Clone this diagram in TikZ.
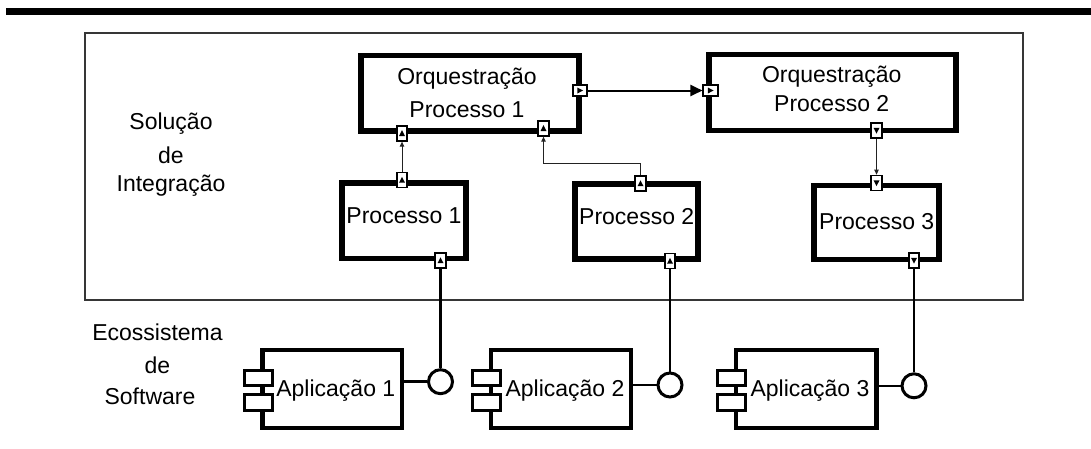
\documentclass[tikz,border=0pt]{standalone}
\usepackage{fontspec}
\setmainfont{Liberation Sans}
\usetikzlibrary{arrows.meta,calc}
\definecolor{framegray}{HTML}{363636}
\definecolor{wiregray}{HTML}{222222}
\begin{document}
\begin{tikzpicture}[x=1pt,y=-1pt,
  lbl/.style={font=\fontsize{23}{28}\selectfont, inner sep=0pt, text height=16.5pt, text depth=0pt},
  block/.style={inner sep=0pt, align=center},
  orch/.style={draw, line width=5.6pt, fill=white, inner sep=0pt},
  proc/.style={draw, line width=5.2pt, fill=white, inner sep=0pt},
  app/.style={draw, line width=4.6pt, fill=white, inner sep=0pt, outer sep=0pt},
  tab/.style={draw, line width=2.7pt, fill=white, inner sep=0pt,
    minimum width=28pt, minimum height=15.5pt},
  vport/.style={draw, line width=1.7pt, fill=white, inner sep=0pt,
    minimum width=10.6pt, minimum height=15pt},
  hport/.style={draw, line width=1.7pt, fill=white, inner sep=0pt,
    minimum width=14.4pt, minimum height=10.4pt},
  portup/.style={vport, path picture={\fill[black] ([shift={(-3pt,-2.7pt)}]path picture bounding box.center)
      -- ++(6pt,0pt) -- ++(-3pt,5.8pt) -- cycle;}},
  portdown/.style={vport, path picture={\fill[black] ([shift={(-3pt,2.7pt)}]path picture bounding box.center)
      -- ++(6pt,0pt) -- ++(-3pt,-5.8pt) -- cycle;}},
  portright/.style={hport, path picture={\fill[black] ([shift={(-2.7pt,-3pt)}]path picture bounding box.center)
      -- ++(0pt,6pt) -- ++(5.8pt,-3pt) -- cycle;}},
  iface/.style={circle, draw, line width=3pt, fill=white, inner sep=0pt, minimum size=24pt},
  flow/.style={line width=2pt, -{Triangle[length=12pt,width=11pt]}},
  feed/.style={line width=0.9pt, draw=wiregray, -{Triangle[length=5pt,width=4.5pt]}},
  wire/.style={line width=2.6pt},
]
\useasboundingbox (0,0) rectangle (1091,448);

% heading rule
\fill (6,7.5) rectangle (1091,14.5);

% integration layer frame
\node[draw=framegray, line width=2pt, inner sep=0pt, minimum width=937.7pt,
      minimum height=267.3pt] (sol) at (553.85,166.35) {};

% layer captions
\node[block, font=\fontsize{23}{31}\selectfont] (solcap) at (171,154.9)
  {Solução\\[2.3pt]de\hspace*{19pt}\\[-2.2pt]Integração};
\node[block, font=\fontsize{23}{32}\selectfont] (ecocap) at (157.5,364.3)
  {Ecossistema\\[1pt]de\hspace*{17pt}\\[-0.3pt]Software\hspace*{15pt}};

% orchestration processes
\node[orch, minimum width=218pt, minimum height=75.5pt] (orq1) at (470,93.25) {};
\node[orch, minimum width=247pt, minimum height=76pt] (orq2) at (832.5,92.5) {};
\node[block, font=\fontsize{23}{33.3}\selectfont] (orq1t) at (467,93.2) {Orquestração\\Processo 1};
\node[block, font=\fontsize{23}{28.3}\selectfont] (orq2t) at (831.7,89) {Orquestração\\Processo 2};

% integration processes
\node[proc, minimum width=124pt, minimum height=75.5pt] (p1) at (404,220.75) {};
\node[proc, minimum width=123pt, minimum height=75pt] (p2) at (636.5,221.5) {};
\node[proc, minimum width=125pt, minimum height=74pt] (p3) at (876.5,222.5) {};
\node[lbl] (p1t) at (404,215) {Processo 1};
\node[lbl] (p2t) at (636.7,216.7) {Processo 2};
\node[lbl] (p3t) at (876.7,221.7) {Processo 3};

% applications
\node[app, minimum width=139.5pt, minimum height=78pt] (app1) at (332.25,389) {};
\node[app, minimum width=140pt, minimum height=78pt] (app2) at (561,389) {};
\node[app, minimum width=140.5pt, minimum height=78pt] (app3) at (806.25,389) {};
\foreach \a in {app1,app2,app3}{
  \node[tab] (\a u) at ($(\a.west)+(-4.25,-11)$) {};
  \node[tab] (\a l) at ($(\a.west)+(-4.25,13.5)$) {};
}
\node[lbl] (a1t) at (335.8,388.3) {Aplicação 1};
\node[lbl] (a2t) at (565,388) {Aplicação 2};
\node[lbl] (a3t) at (810,388) {Aplicação 3};

% ports
\node[portright] (o1r) at (580,90.5) {};
\node[portright] (o2l) at (710.5,90.5) {};
\node[portup] (o1b1) at (402,133.3) {};
\node[portup] (o1b2) at (543.5,128.3) {};
\node[portdown] (o2b) at (876.5,130.5) {};
\node[portup] (p1in) at (402,180) {};
\node[portup] (p1out) at (440.5,260.5) {};
\node[portup] (p2in) at (640.5,183.5) {};
\node[portup] (p2out) at (670,261) {};
\node[portdown] (p3in) at (876.5,183) {};
\node[portdown] (p3out) at (914,260.5) {};

% provided interfaces
\node[iface] (c1) at (440.5,381.7) {};
\node[iface] (c2) at (670,385) {};
\node[iface] (c3) at (914,385.8) {};

% message flows
\draw[flow] (o1r.east) -- (o2l.west);
\draw[feed] (p1in.north) -- (o1b1.south);
\draw[feed] (p2in.north) -- ++(0,-11.5) -| (o1b2.south);
\draw[feed] (o2b.south) -- (p3in.north);

% application bindings
\draw[wire] (p1out.south) -- (c1.north);
\draw[wire] (p2out.south) -- (c2.north);
\draw[wire] (p3out.south) -- (c3.north);
\draw[wire] (c1.west) -- (c1.west -| app1.east);
\draw[wire] (c2.west) -- (c2.west -| app2.east);
\draw[wire] (c3.west) -- (c3.west -| app3.east);
\end{tikzpicture}
\end{document}
